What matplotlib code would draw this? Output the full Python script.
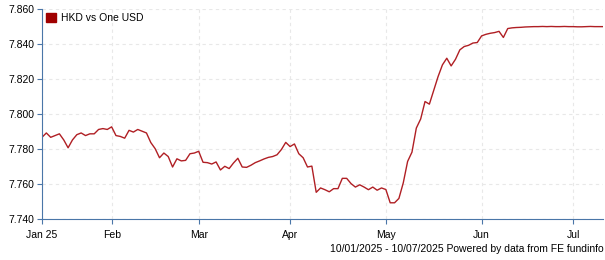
import matplotlib.pyplot as plt
import numpy as np
import pandas as pd

plt.rcParams["font.family"] = ["Liberation Sans", "DejaVu Sans"]

START = "2025-01-10"
END = "2025-07-10"
SERIES_NAME = "HKD vs One USD"
FOOTER = "10/01/2025 - 10/07/2025 Powered by data from FE fundinfo"

# daily close, one value per business day
hkd = [
    7.7865, 7.7890, 7.7865, 7.7875, 7.7885, 7.7850, 7.7805, 7.7850, 7.7880, 7.7890,
    7.7875, 7.7885, 7.7885, 7.7910, 7.7915, 7.7910, 7.7925, 7.7875, 7.7870, 7.7860,
    7.7905, 7.7895, 7.7910, 7.7900, 7.7890, 7.7835, 7.7800, 7.7748, 7.7775, 7.7755,
    7.7695, 7.7742, 7.7730, 7.7733, 7.7771, 7.7775, 7.7785, 7.7722, 7.7720, 7.7712,
    7.7724, 7.7678, 7.7699, 7.7686, 7.7718, 7.7745, 7.7695, 7.7693, 7.7705, 7.7720,
    7.7730, 7.7741, 7.7750, 7.7755, 7.7765, 7.7795, 7.7836, 7.7812, 7.7827, 7.7771,
    7.7748, 7.7695, 7.7700, 7.7550, 7.7575, 7.7565, 7.7553, 7.7571, 7.7571, 7.7630,
    7.7630, 7.7600, 7.7580, 7.7593, 7.7580, 7.7565, 7.7580, 7.7562, 7.7575, 7.7566,
    7.7490, 7.7490, 7.7515, 7.7604, 7.7727, 7.7780, 7.7918, 7.7970, 7.8070, 7.8055,
    7.8133, 7.8213, 7.8280, 7.8318, 7.8274, 7.8312, 7.8366, 7.8385, 7.8392, 7.8405,
    7.8408, 7.8446, 7.8455, 7.8461, 7.8465, 7.8472, 7.8437, 7.8488, 7.8492, 7.8494,
    7.8495, 7.8497, 7.8498, 7.8499, 7.8499, 7.8500, 7.8499, 7.8500, 7.8499, 7.8499,
    7.8500, 7.8499, 7.8499, 7.8498, 7.8498, 7.8499, 7.8500, 7.8499, 7.8499, 7.8499,
]
month_labels = ["Jan 25", "Feb", "Mar", "Apr", "May", "Jun", "Jul"]
y_ticks = [7.740, 7.760, 7.780, 7.800, 7.820, 7.840, 7.860]

dates = pd.bdate_range(START, END)
x = np.arange(len(dates))
# first business day of each month -> tick position
months = dates.to_period("M")
tick_pos = [0] + [i for i in range(1, len(dates)) if months[i] != months[i - 1]]

RED = "#b01f24"
SPINE = "#4a76a8"
GRID = "#e8e8e8"

fig = plt.figure(figsize=(6.05, 2.6), dpi=100)
ax = fig.add_axes([0.0694, 0.1596, 0.9281, 0.8058])

ax.plot(x, hkd[: len(x)], color=RED, linewidth=1.0, label=SERIES_NAME)

ax.set_xlim(0, len(x) - 1)
ax.set_ylim(y_ticks[0], y_ticks[-1])
ax.set_yticks(y_ticks)
ax.set_yticklabels([f"{v:.3f}" for v in y_ticks])
ax.set_xticks(tick_pos)
ax.set_xticklabels(month_labels)

ax.grid(True, color=GRID, linestyle=(0, (3, 3)), linewidth=0.8)
ax.set_axisbelow(True)
ax.spines[["top", "right"]].set_visible(False)
ax.spines["left"].set_color(SPINE)
ax.spines["bottom"].set_color(SPINE)
ax.tick_params(axis="both", labelsize=7.5, colors="black", length=3.5, width=0.8, pad=2)
ax.tick_params(axis="x", pad=5, color=SPINE)
ax.tick_params(axis="y", color=SPINE)

handle = plt.Rectangle((0, 0), 1, 1, color="#a00000")
ax.legend([handle], [SERIES_NAME], loc="upper left", frameon=False, fontsize=7.5,
          handlelength=0.95, handleheight=0.95, handletextpad=0.5,
          borderaxespad=0.0, bbox_to_anchor=(0.0, 1.0))

fig.text(0.997, 0.042, FOOTER, ha="right", va="center", fontsize=7.5, color="black")

fig.savefig("out.png", dpi=100)
